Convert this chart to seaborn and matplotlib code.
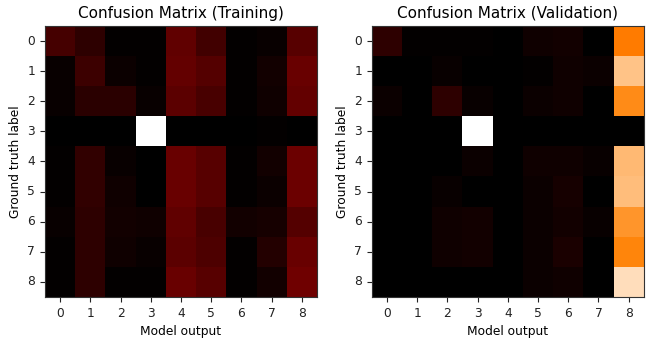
import numpy as np
import pandas as pd
import matplotlib
matplotlib.use("Agg")
import matplotlib.pyplot as plt
import seaborn as sns

classes = list(range(9))

# row-normalised confusion matrices (rows: ground truth, cols: model output)
cm_train = [
    [0.18, 0.12, 0.01, 0.01, 0.25, 0.17, 0.01, 0.02, 0.23],
    [0.02, 0.16, 0.03, 0.01, 0.26, 0.22, 0.01, 0.05, 0.27],
    [0.02, 0.11, 0.11, 0.02, 0.24, 0.19, 0.01, 0.04, 0.26],
    [0.00, 0.00, 0.00, 1.00, 0.00, 0.00, 0.00, 0.01, 0.00],
    [0.01, 0.13, 0.02, 0.00, 0.27, 0.23, 0.01, 0.05, 0.28],
    [0.01, 0.13, 0.04, 0.00, 0.27, 0.23, 0.01, 0.03, 0.28],
    [0.02, 0.12, 0.05, 0.04, 0.25, 0.19, 0.05, 0.06, 0.22],
    [0.01, 0.12, 0.04, 0.02, 0.24, 0.20, 0.01, 0.09, 0.27],
    [0.01, 0.12, 0.01, 0.01, 0.27, 0.23, 0.01, 0.05, 0.29],
]

cm_val = [
    [0.12, 0.01, 0.01, 0.01, 0.00, 0.04, 0.05, 0.00, 0.74],
    [0.00, 0.00, 0.02, 0.00, 0.00, 0.01, 0.04, 0.03, 0.88],
    [0.03, 0.00, 0.12, 0.02, 0.00, 0.03, 0.04, 0.00, 0.77],
    [0.00, 0.00, 0.00, 1.00, 0.00, 0.00, 0.00, 0.00, 0.00],
    [0.00, 0.00, 0.00, 0.03, 0.00, 0.04, 0.04, 0.02, 0.86],
    [0.00, 0.00, 0.02, 0.00, 0.00, 0.03, 0.06, 0.00, 0.87],
    [0.00, 0.00, 0.04, 0.05, 0.00, 0.03, 0.05, 0.02, 0.79],
    [0.00, 0.00, 0.04, 0.05, 0.00, 0.03, 0.07, 0.00, 0.76],
    [0.00, 0.00, 0.00, 0.00, 0.00, 0.03, 0.04, 0.00, 0.93],
]

titles = ["Confusion Matrix (Training)", "Confusion Matrix (Validation)"]

fig = plt.figure(figsize=(6.51, 3.46), dpi=100)
axes = [fig.add_axes([0.069, 0.142, 0.418, 0.783]),
        fig.add_axes([0.571, 0.142, 0.418, 0.783])]

for ax, cm, title in zip(axes, [cm_train, cm_val], titles):
    df = pd.DataFrame(cm, index=classes, columns=classes)
    sns.heatmap(df, ax=ax, cmap="gist_heat", cbar=False, vmin=0)
    for sp in ax.spines.values():
        sp.set_visible(True)
        sp.set_linewidth(0.8)
        sp.set_color("#333333")
    ax.tick_params(axis="both", length=3.5, width=0.8, labelsize=8.8, colors="#222222")
    ax.set_yticklabels(classes, rotation=0)
    ax.set_xticklabels(classes, rotation=0)
    ax.set_title(title, fontsize=11)
    ax.set_xlabel("Model output", fontsize=8.8)
    ax.set_ylabel("Ground truth label", fontsize=8.8)

fig.savefig("out.png", dpi=100)
